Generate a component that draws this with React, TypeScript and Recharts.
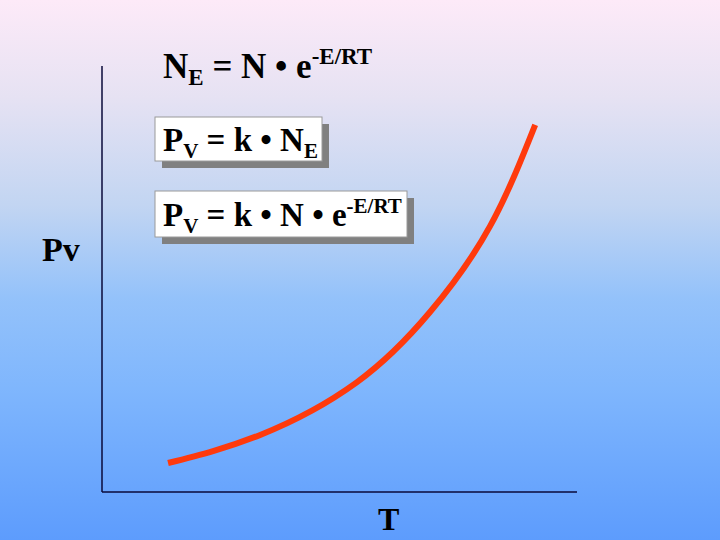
import React from 'react';
import { LineChart, Line, XAxis, YAxis, ReferenceLine } from 'recharts';

// Temperature (arbitrary units) and vapour pressure (arbitrary units)
const temperature = [13.9, 33.3, 53.7, 69.1, 81.7, 91.2];
const vaporPressure = [6.8, 13.4, 25.8, 42.3, 62.4, 86.2];
const xAxisLabel = 'T';
const yAxisLabel = 'Pv';

const data = temperature.map((t, i) => ({ t, p: vaporPressure[i] }));

const FONT = '"Liberation Serif", "Times New Roman", serif';
const AXIS_COLOR = '#0a0a3a';

export default function App() {
  return (
    <div
      style={{
        position: 'absolute',
        left: 0,
        top: 0,
        width: 720,
        height: 540,
        background:
          'linear-gradient(to bottom, #fdeaf8 0%, #e6e2f3 18%, #c2d5f2 38%, #94c2fa 55%, #7fb6fd 72%, #5d9cfd 100%)',
        fontFamily: FONT,
      }}
    >
      <LineChart
        width={720}
        height={540}
        data={data}
        margin={{ top: 66, right: 143, bottom: 48, left: 102 }}
      >
        <XAxis dataKey="t" type="number" domain={[0, 100]} hide />
        <YAxis type="number" domain={[0, 100]} hide />
        <ReferenceLine x={0} stroke={AXIS_COLOR} strokeWidth={1.5} />
        <ReferenceLine y={0} stroke={AXIS_COLOR} strokeWidth={1.5} />
        <Line
          type="natural"
          dataKey="p"
          stroke="#ff3a0c"
          strokeWidth={6}
          dot={false}
          isAnimationActive={false}
        />
      </LineChart>
      <svg
        width={720}
        height={540}
        style={{ position: 'absolute', left: 0, top: 0, pointerEvents: 'none' }}
        fontFamily={FONT}
        fontWeight="bold"
        fill="#000"
      >
        {/* axis labels */}
        <text x={42} y={261} fontSize={34}>{yAxisLabel}</text>
        <text x={378} y={530} fontSize={32}>{xAxisLabel}</text>

        {/* top formula */}
        <text x={163} y={78} fontSize={35}>
          N<tspan fontSize={23} dy={7}>E</tspan>
          <tspan dy={-7}> = N • e</tspan>
          <tspan fontSize={23} dy={-14}>-E/RT</tspan>
        </text>

        {/* box 1 */}
        <rect x={162} y={124} width={167} height={44} fill="#808080" />
        <rect x={155} y={117} width={167} height={44} fill="#ffffff" stroke="#9a9a9a" strokeWidth={1} />
        <text x={163} y={151} fontSize={33}>
          P<tspan fontSize={21} dy={7}>V</tspan>
          <tspan dy={-7}> = k • N</tspan>
          <tspan fontSize={21} dy={7}>E</tspan>
        </text>

        {/* box 2 */}
        <rect x={162} y={198} width={252} height={46} fill="#808080" />
        <rect x={155} y={191} width={252} height={46} fill="#ffffff" stroke="#9a9a9a" strokeWidth={1} />
        <text x={163} y={226} fontSize={33}>
          P<tspan fontSize={21} dy={7}>V</tspan>
          <tspan dy={-7}> = k • N • e</tspan>
          <tspan fontSize={21} dy={-13}>-E/RT</tspan>
        </text>
      </svg>
    </div>
  );
}
